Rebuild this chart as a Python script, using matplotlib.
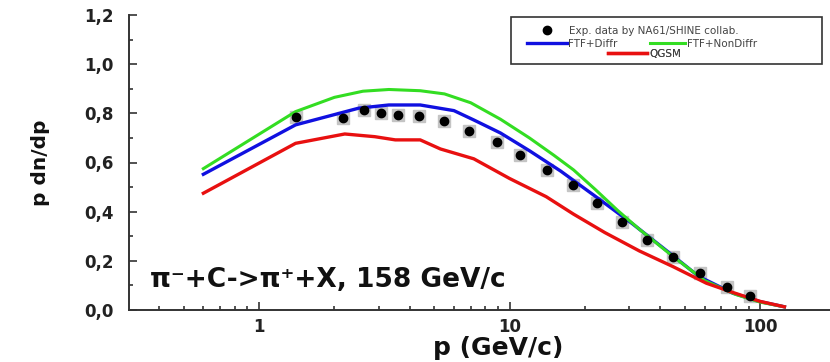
#%% Imports
import matplotlib
matplotlib.use("Agg")
import matplotlib.pyplot as plt
from matplotlib.patches import Rectangle
from matplotlib.ticker import FixedLocator, FuncFormatter, LogLocator, MultipleLocator
import numpy as np

plt.rcParams["font.family"] = ["DejaVu Sans"]


#%% Data
p_exp = [1.41, 2.17, 2.63, 3.07, 3.58, 4.37, 5.49, 6.9, 8.94, 11.0, 14.1, 17.9,
         22.3, 28.0, 35.3, 45.1, 57.6, 73.6, 91.2]
dndp_exp = [0.786, 0.780, 0.814, 0.803, 0.793, 0.789, 0.769, 0.727, 0.685, 0.631,
            0.570, 0.509, 0.434, 0.359, 0.285, 0.214, 0.152, 0.095, 0.057]

p_nondiffr = [0.6, 1.4, 2.0, 2.6, 3.3, 4.4, 5.5, 7.0, 9.2, 12.0, 15.0, 18.0, 22.0,
              27.0, 33.0, 45.0, 60.0, 80.0, 100.0, 125.0]
dndp_nondiffr = [0.575, 0.807, 0.865, 0.890, 0.897, 0.892, 0.879, 0.843, 0.776, 0.700,
                 0.630, 0.570, 0.490, 0.405, 0.328, 0.217, 0.120, 0.063, 0.032, 0.013]

p_diffr = [0.6, 1.4, 2.5, 3.3, 4.4, 6.0, 7.2, 9.2, 12.0, 16.0, 23.0, 31.0, 42.0,
           57.0, 78.0, 100.0, 125.0]
dndp_diffr = [0.552, 0.753, 0.821, 0.834, 0.834, 0.811, 0.773, 0.720, 0.648, 0.565,
              0.448, 0.350, 0.244, 0.136, 0.068, 0.034, 0.013]

p_qgsm = [0.6, 1.4, 2.2, 2.9, 3.5, 4.4, 5.3, 7.2, 10.0, 14.0, 18.0, 24.0, 33.0,
          45.0, 61.0, 78.0, 100.0, 125.0]
dndp_qgsm = [0.475, 0.678, 0.716, 0.705, 0.692, 0.692, 0.655, 0.615, 0.535, 0.461,
             0.390, 0.315, 0.240, 0.176, 0.109, 0.071, 0.035, 0.013]

y_ticks = [0.0, 0.2, 0.4, 0.6, 0.8, 1.0, 1.2]
x_ticks = [1, 10, 100]

BLUE = "#1010e0"
GREEN = "#33dd22"
RED = "#e81010"
AXIS = "#333333"


#%% Figure
fig = plt.figure(figsize=(8.3, 3.62), dpi=100)
ax = fig.add_axes([129 / 830, 52 / 362, 701 / 830, 295 / 362])

ax.plot(p_exp, dndp_exp, "s", color="#c4c4c4", markersize=8.5, zorder=2)
exp_line, = ax.plot(p_exp, dndp_exp, "o", color="black", markersize=6, zorder=4)
diffr_line, = ax.plot(p_diffr, dndp_diffr, color=BLUE, lw=2.4, zorder=3)
nondiffr_line, = ax.plot(p_nondiffr, dndp_nondiffr, color=GREEN, lw=2.2, zorder=3)
qgsm_line, = ax.plot(p_qgsm, dndp_qgsm, color=RED, lw=2.4, zorder=3)

ax.set_xscale("log")
ax.set_xlim(0.303, 190)
ax.set_ylim(0, 1.2)

ax.xaxis.set_major_locator(FixedLocator(x_ticks))
ax.xaxis.set_major_formatter(FuncFormatter(lambda v, _: f"{v:.0f}"))
ax.xaxis.set_minor_locator(LogLocator(base=10, subs=np.arange(2, 10)))
ax.yaxis.set_major_locator(FixedLocator(y_ticks))
ax.yaxis.set_minor_locator(MultipleLocator(0.1))
ax.yaxis.set_major_formatter(FuncFormatter(lambda v, _: f"{v:.1f}".replace(".", ",")))

for side in ["top", "right"]:
    ax.spines[side].set_visible(False)
for side in ["left", "bottom"]:
    ax.spines[side].set_color(AXIS)
    ax.spines[side].set_linewidth(1.4)

ax.tick_params(which="both", direction="in", color=AXIS, width=1.2)
ax.tick_params(which="major", length=6)
ax.tick_params(which="minor", length=3)
ax.tick_params(axis="y", which="major", labelsize=12, pad=11, labelcolor="#222222")
ax.tick_params(axis="x", which="major", labelsize=12, pad=6, labelcolor="#222222")
for lbl in ax.get_xticklabels() + ax.get_yticklabels():
    lbl.set_fontweight("bold")

ax.set_ylabel("p dn/dp", fontsize=14.5, fontweight="bold", color="#111111")
ax.yaxis.set_label_coords(-0.112, 0.5)
ax.set_xlabel("p (GeV/c)", fontsize=18, fontweight="bold", color="#111111")
ax.xaxis.set_label_coords(0.526, -0.088)

ax.text(0.03, 0.078, "\u03c0\u207b+C->\u03c0\u207a+X, 158 GeV/c", transform=ax.transAxes,
        fontsize=19, fontweight="bold", va="baseline", ha="left", color="#111111")


#%% Legend (one small legend per entry, boxed like the original)
ax.add_patch(Rectangle((0.545, 0.834), 0.444, 0.159, transform=ax.transAxes,
                       fill=False, ec=AXIS, lw=1.2, zorder=5))

leg_kw = dict(frameon=False, fontsize=7.5, borderpad=0, borderaxespad=0,
              loc="center left", labelcolor="#444444")
entries = [
    (exp_line, "Exp. data by NA61/SHINE collab.", (0.589, 0.946), 1.0, 1.6),
    (diffr_line, "FTF+Diffr", (0.568, 0.902), 3.8, 0.15),
    (nondiffr_line, "FTF+NonDiffr", (0.743, 0.902), 3.4, 0.15),
    (qgsm_line, "QGSM", (0.683, 0.868), 3.8, 0.15),
]
for handle, label, anchor, hlen, tpad in entries:
    leg = ax.legend([handle], [label], bbox_to_anchor=anchor, handlelength=hlen,
                    handletextpad=tpad, **leg_kw)
    ax.add_artist(leg)

fig.savefig("out.png", dpi=100)
